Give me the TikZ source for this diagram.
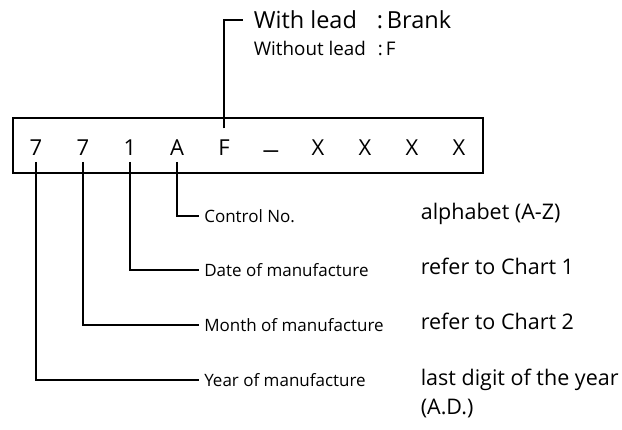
\documentclass[tikz,border=0pt]{standalone}
\usepackage{fontspec}
\setmainfont{Open Sans}
\usetikzlibrary{positioning}

\begin{document}
\begin{tikzpicture}[x=1pt, y=-1pt, line width=1.6pt,
        code/.style={font=\fontsize{22}{24}\selectfont, inner sep=0pt, anchor=base},
        part/.style={font=\fontsize{17}{19}\selectfont, anchor=west, inner sep=4.5pt},
        means/.style={font=\fontsize{21.5}{24}\selectfont, anchor=base west, inner sep=0pt}]
        \useasboundingbox (0,0) rectangle (622,429);
        \draw (13,118) rectangle (483,173);

        \node[code] (ch-1) at (36,155) {7};
        \node[code] (ch-2) at (83,155) {7};
        \node[code] (ch-3) at (130,155) {1};
        \node[code] (ch-4) at (177,155) {A};
        \node[code] (ch-5) at (224,155) {F};
        \node[code] (ch-6) at (271,155) {\raisebox{-2pt}{\scalebox{1.6}[1]{–}}};
        \node[code] (ch-7) at (318,155) {X};
        \node[code] (ch-8) at (365,155) {X};
        \node[code] (ch-9) at (412,155) {X};
        \node[code] (ch-10) at (459,155) {X};

        \node (lead-with) [font=\fontsize{23.5}{26}\selectfont, anchor=west, inner sep=0pt] at (253,20) {With lead};
        \node (lead-with-val) [font=\fontsize{23.5}{26}\selectfont, anchor=base west, inner sep=0pt] at (lead-with.base -| 376,0) {:\,Brank};
        \node (lead-without) [font=\fontsize{18.8}{21}\selectfont, anchor=base west, inner sep=0pt] at (253,55) {Without lead};
        \node (lead-without-val) [font=\fontsize{18.8}{21}\selectfont, anchor=base west, inner sep=0pt] at (lead-without.base -| 377,0) {:\,F};
        \draw (ch-5.north) ++(0,-10) |- ([xshift=-10pt]lead-with.west);

        \node[part] (ctrl) at (199,216) {Control No.};
        \node[part] (date) at (199,270) {Date of manufacture};
        \node[part] (month) at (199,325) {Month of manufacture};
        \node[part] (year) at (199,380) {Year of manufacture};

        \node[means] (ctrl-val) at (420,219) {alphabet (A-Z)};
        \node[means] (date-val) at (420,274) {refer to Chart 1};
        \node[means] (month-val) at (420,329) {refer to Chart 2};
        \node[means] (year-val) at (420,385) {last digit of the year};
        \node[means] (year-ad) at (420,414) {(A.D.)};

        \draw (ch-4.south) ++(0,6) |- (ctrl.west);
        \draw (ch-3.south) ++(0,6) |- (date.west);
        \draw (ch-2.south) ++(0,6) |- (month.west);
        \draw (ch-1.south) ++(0,6) |- (year.west);
\end{tikzpicture}
\end{document}
